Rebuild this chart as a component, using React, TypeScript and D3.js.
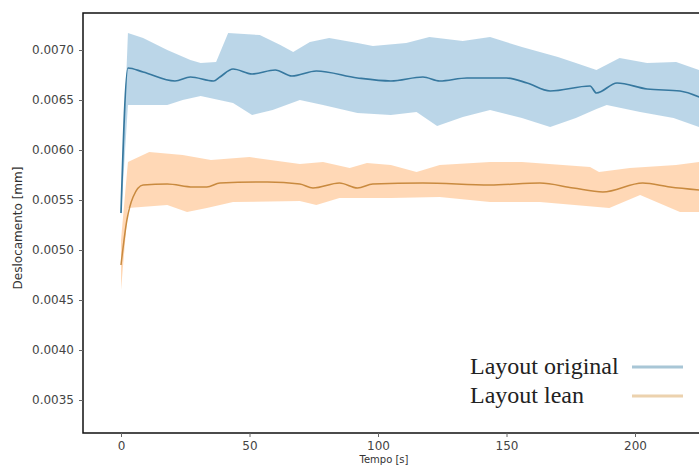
import React, { useRef, useEffect } from 'react'
import * as d3 from 'd3'

// tempo [s] / deslocamento [mm]
const blueMeanT = [0, 2.7, 8.6, 21, 27, 36, 38.5, 43.6, 51, 60, 66.5, 76, 92, 105, 117.5, 124, 134.6, 150, 158, 167, 182.5, 185, 193, 204.7, 217.5, 225]
const blueMean = [0.00537, 0.00682, 0.00678, 0.00669, 0.00673, 0.00669, 0.00673, 0.00681, 0.00676, 0.0068, 0.00674, 0.00679, 0.00672, 0.00669, 0.00673, 0.00669, 0.00672, 0.00672, 0.00667, 0.00659, 0.00664, 0.00657, 0.00667, 0.00661, 0.00659, 0.00653]

const blueHighT = [0, 2.7, 8.6, 18, 27, 31, 37, 41.7, 54, 62, 67, 73.5, 81, 92, 98, 111, 120, 133, 143.6, 156, 170, 177, 185, 194, 204.7, 216, 225]
const blueHigh = [0.0054, 0.00717, 0.00712, 0.007, 0.0069, 0.00687, 0.00688, 0.00717, 0.00715, 0.00705, 0.00698, 0.00708, 0.00712, 0.00707, 0.00704, 0.00707, 0.00713, 0.00709, 0.00713, 0.00703, 0.00693, 0.00687, 0.0068, 0.00692, 0.00687, 0.00688, 0.0068]

const blueLowT = [0, 2.7, 18, 24, 31, 43.6, 51, 59, 69.6, 78.6, 92, 105, 115, 123, 133, 143.6, 156, 167, 177, 185, 189, 202, 215, 225]
const blueLow = [0.00534, 0.00645, 0.00645, 0.0065, 0.00654, 0.00647, 0.00635, 0.0064, 0.0065, 0.00645, 0.00637, 0.00635, 0.00638, 0.00624, 0.00633, 0.0064, 0.00632, 0.00623, 0.00632, 0.00641, 0.00645, 0.00638, 0.00632, 0.00623]

const orangeMeanT = [0, 2.3, 4.7, 8.6, 18, 28, 33.4, 38.5, 57, 69.6, 74.7, 85, 92, 98, 117.5, 143.6, 163, 176, 187.5, 203, 213.6, 225]
const orangeMean = [0.00485, 0.0053, 0.00553, 0.00565, 0.00566, 0.00563, 0.00563, 0.00567, 0.00568, 0.00566, 0.00562, 0.00567, 0.00562, 0.00566, 0.00567, 0.00565, 0.00567, 0.00562, 0.00558, 0.00567, 0.00563, 0.0056]

const orangeHighT = [0, 2.7, 11, 24, 35, 50, 69.6, 78.6, 89, 95.7, 105, 115, 124, 143.6, 156, 182.5, 186, 198, 216, 225]
const orangeHigh = [0.0051, 0.00588, 0.00598, 0.00595, 0.0059, 0.00593, 0.00586, 0.00588, 0.00582, 0.00587, 0.00585, 0.00578, 0.00585, 0.00588, 0.00588, 0.00583, 0.00578, 0.00582, 0.00585, 0.00588]

const orangeLowT = [0, 2.7, 18, 25.7, 33.4, 43.6, 69.6, 76, 85, 105, 124, 143.6, 163, 190, 202, 217.5, 225]
const orangeLow = [0.0046, 0.00542, 0.00545, 0.00538, 0.00542, 0.00548, 0.00549, 0.00545, 0.00552, 0.00552, 0.00553, 0.00548, 0.00548, 0.00542, 0.00555, 0.00538, 0.00538]

const yTicks = [0.0035, 0.004, 0.0045, 0.005, 0.0055, 0.006, 0.0065, 0.007]
const xTicks = [0, 50, 100, 150, 200]
const legendLabels = ['Layout original', 'Layout lean']

const W = 699
const H = 467

const zip = (t: number[], v: number[]) => t.map((d, i) => [d, v[i]] as [number, number])

const App = () => {
    const ref = useRef<SVGSVGElement>(null)

    useEffect(() => {
        const svg = d3.select(ref.current)
        svg.selectAll('*').remove()

        const left = 83, top = 13, bottom = 433, right = 720
        const x = d3.scaleLinear().domain([0, 200]).range([121, 635])
        const y = d3.scaleLinear().domain([0.007, 0.0035]).range([50, 400])

        svg.append('clipPath').attr('id', 'plotclip')
            .append('rect').attr('x', left).attr('y', top).attr('width', right - left).attr('height', bottom - top)

        const plot = svg.append('g').attr('clip-path', 'url(#plotclip)')

        const line = d3.line<[number, number]>()
            .x(d => x(d[0]))
            .y(d => y(d[1]))
        const smooth = d3.line<[number, number]>()
            .x(d => x(d[0]))
            .y(d => y(d[1]))
            .curve(d3.curveMonotoneX)

        const band = (hiT: number[], hi: number[], loT: number[], lo: number[]) =>
            line(zip(hiT, hi).concat(zip(loT, lo).reverse())) + 'Z'

        plot.append('path')
            .attr('d', band(blueHighT, blueHigh, blueLowT, blueLow))
            .attr('fill', 'rgba(31,119,180,0.3)')
        plot.append('path')
            .attr('d', smooth(zip(blueMeanT, blueMean)))
            .attr('fill', 'none').attr('stroke', '#36789f').attr('stroke-width', 1.7)

        plot.append('path')
            .attr('d', band(orangeHighT, orangeHigh, orangeLowT, orangeLow))
            .attr('fill', 'rgba(255,127,14,0.3)')
        plot.append('path')
            .attr('d', smooth(zip(orangeMeanT, orangeMean)))
            .attr('fill', 'none').attr('stroke', '#c98a3f').attr('stroke-width', 1.5)

        // frame
        svg.append('path')
            .attr('d', `M${right},${top}H${left}V${bottom}H${right}`)
            .attr('fill', 'none').attr('stroke', '#111').attr('stroke-width', 1.5)

        const yAxis = svg.append('g')
            .attr('transform', `translate(${left},0)`)
            .call(d3.axisLeft(y).tickValues(yTicks).tickFormat(d3.format('.4f')).tickSize(4).tickPadding(5))
        yAxis.select('.domain').remove()

        const xAxis = svg.append('g')
            .attr('transform', `translate(0,${bottom})`)
            .call(d3.axisBottom(x).tickValues(xTicks).tickFormat(d3.format('d')).tickSize(4).tickPadding(4))
        xAxis.select('.domain').remove()

        svg.selectAll('.tick line').attr('stroke', '#666')
        svg.selectAll('.tick text')
            .attr('fill', '#444')
            .style('font-family', 'DejaVu Sans')
            .style('font-size', '12px')

        svg.append('text')
            .attr('x', 384).attr('y', 463)
            .attr('text-anchor', 'middle')
            .style('font-family', 'DejaVu Sans').style('font-size', '10px').attr('fill', '#333')
            .text('Tempo [s]')

        svg.append('text')
            .attr('transform', 'translate(22,228) rotate(-90)')
            .attr('text-anchor', 'middle')
            .style('font-family', 'DejaVu Sans').style('font-size', '12px').attr('fill', '#333')
            .text('Deslocamento [mm]')

        // legend
        const legendColors = ['#a8c6d6', '#ecd2ae']
        const legend = svg.append('g')
        legendLabels.forEach((label, i) => {
            const ly = 374 + i * 29
            legend.append('text')
                .attr('x', 470).attr('y', ly)
                .style('font-family', 'Liberation Serif').style('font-size', '24px').attr('fill', '#222')
                .text(label)
            legend.append('line')
                .attr('x1', 632).attr('x2', 683)
                .attr('y1', ly - 7).attr('y2', ly - 7)
                .attr('stroke', legendColors[i]).attr('stroke-width', 3)
        })
    }, [])

    return (
        <svg ref={ref} width={W} height={H}
            style={{ position: 'absolute', left: 0, top: 0, background: '#fff' }} />
    )
}

export default App
